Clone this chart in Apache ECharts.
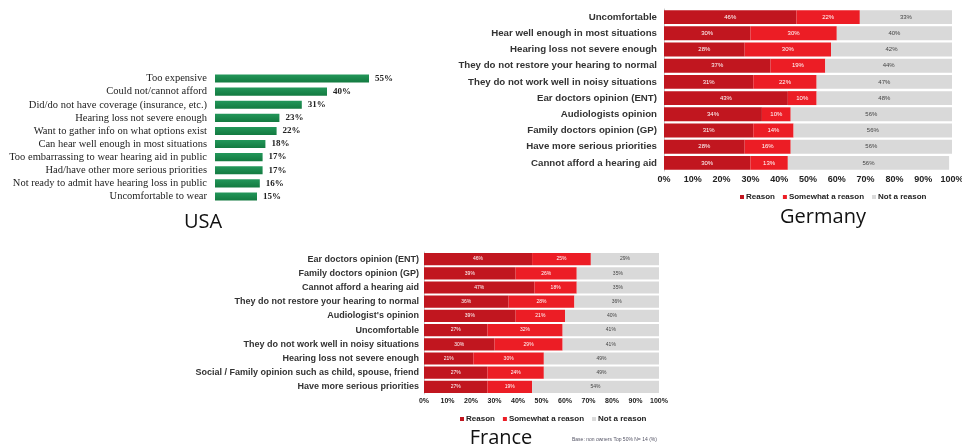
<!DOCTYPE html>
<html><head><meta charset="utf-8">
<script src="https://cdn.jsdelivr.net/npm/echarts@6/dist/echarts.min.js"></script>
<style>html,body{margin:0;padding:0;background:#fff}#c{width:962px;height:448px}</style>
</head><body><div id="c"></div>
<script>
// USA
const usaCategories = ["Too expensive","Could not/cannot afford","Did/do not have coverage (insurance, etc.)","Hearing loss not severe enough","Want to gather info on what options exist","Can hear well enough in most situations","Too embarrassing to wear hearing aid in public","Had/have other more serious priorities","Not ready to admit have hearing loss in public","Uncomfortable to wear"];
const usaValues = [55,40,31,23,22,18,17,17,16,15];
// Germany
const deCategories = ["Uncomfortable","Hear well enough in most situations","Hearing loss not severe enough","They do not restore your hearing to normal","They do not work well in noisy situations","Ear doctors opinion (ENT)","Audiologists opinion","Family doctors opinion (GP)","Have more serious priorities","Cannot afford a hearing aid"];
const deReason = [46,30,28,37,31,43,34,31,28,30];
const deSomewhat = [22,30,30,19,22,10,10,14,16,13];
const deNot = [33,40,42,44,47,48,56,56,56,56];
// France
const frCategories = ["Ear doctors opinion (ENT)","Family doctors opinion (GP)","Cannot afford a hearing aid","They do not restore your hearing to normal","Audiologist's opinion","Uncomfortable","They do not work well in noisy situations","Hearing loss not severe enough","Social / Family opinion such as child, spouse, friend","Have more serious priorities"];
const frReason = [46,39,47,36,39,27,30,21,27,27];
const frSomewhat = [25,26,18,28,21,32,29,30,24,19];
const frNot = [29,35,35,36,40,41,41,49,49,54];
const xTicks = [0,10,20,30,40,50,60,70,80,90,100];
const seriesNames = ["Reason","Somewhat a reason","Not a reason"];

const C_REASON = '#c1161f', C_SOME = '#ec1d25', C_NOT = '#d9d9d9';
const chart = echarts.init(document.getElementById('c'));

function stackSeries(idx, data, color, name, fs, txtColor){
  return {type:'bar', name:name, stack:'s'+idx, xAxisIndex:idx, yAxisIndex:idx, clip:true,
    barCategoryGap:'14%', itemStyle:{color:color},
    label:{show:true, position:'inside', formatter:'{c}%', fontSize:fs, color:txtColor, fontFamily:'Liberation Sans'},
    data:data};
}

const option = {
  animation:false,
  title:[
    {text:'USA', left:198, top:207, textAlign:'center', textStyle:{fontFamily:'Open Sans', fontSize:20, fontWeight:'normal', color:'#111'}},
    {text:'Germany', left:818, top:202, textAlign:'center', textStyle:{fontFamily:'Open Sans', fontSize:20, fontWeight:'normal', color:'#111'}},
    {text:'France', left:496, top:423, textAlign:'center', textStyle:{fontFamily:'Open Sans', fontSize:20, fontWeight:'normal', color:'#111'}},
    {text:'Base: non owners Top 50% N= 14 (%)', left:567, top:432, textStyle:{fontFamily:'Liberation Sans', fontSize:5, fontWeight:'normal', color:'#556'}}
  ],
  legend:[
    {data:seriesNames, left:735, top:188, icon:'rect', itemWidth:4, itemHeight:4, itemGap:8,
     textStyle:{fontFamily:'Liberation Sans', fontWeight:'bold', fontSize:8, color:'#222', padding:[0,0,0,-3]}, selectedMode:false},
    {data:seriesNames, left:455, top:410, icon:'rect', itemWidth:4, itemHeight:4, itemGap:8,
     textStyle:{fontFamily:'Liberation Sans', fontWeight:'bold', fontSize:8, color:'#222', padding:[0,0,0,-3]}, selectedMode:false}
  ],
  grid:[
    {left:215, top:72, width:280, height:131, outerBoundsMode:'none'},
    {left:664, top:9, width:288, height:162, outerBoundsMode:'none'},
    {left:424, top:252, width:235, height:142, outerBoundsMode:'none'}
  ],
  xAxis:[
    {gridIndex:0, type:'value', min:0, max:100, show:false},
    {gridIndex:1, type:'value', min:0, max:100, interval:10, splitLine:{show:false},
     axisLine:{show:false}, axisTick:{show:false},
     axisLabel:{formatter:'{value}%', fontFamily:'Liberation Sans', fontWeight:'bold', fontSize:9, color:'#222', margin:4}},
    {gridIndex:2, type:'value', min:0, max:100, interval:10, splitLine:{show:false},
     axisLine:{show:false}, axisTick:{show:false},
     axisLabel:{formatter:'{value}%', fontFamily:'Liberation Sans', fontWeight:'bold', fontSize:7, color:'#222', margin:4}}
  ],
  yAxis:[
    {gridIndex:0, type:'category', inverse:true, data:usaCategories,
     axisLine:{show:false}, axisTick:{show:false},
     axisLabel:{interval:0, fontFamily:'Liberation Serif', fontSize:10.5, color:'#222', margin:8}},
    {gridIndex:1, type:'category', inverse:true, data:deCategories,
     axisLine:{show:true, lineStyle:{color:'#ccc'}}, axisTick:{show:false},
     axisLabel:{interval:0, fontFamily:'Liberation Sans', fontWeight:'bold', fontSize:9.7, color:'#333', margin:7}},
    {gridIndex:2, type:'category', inverse:true, data:frCategories,
     axisLine:{show:true, lineStyle:{color:'#ccc'}}, axisTick:{show:false},
     axisLabel:{interval:0, fontFamily:'Liberation Sans', fontWeight:'bold', fontSize:9, color:'#333', margin:5}}
  ],
  series:[
    {type:'bar', name:'USA', xAxisIndex:0, yAxisIndex:0, barCategoryGap:'38%',
     itemStyle:{color:new echarts.graphic.LinearGradient(0,0,0,1,[{offset:0,color:'#23975a'},{offset:1,color:'#137a40'}])},
     label:{show:true, position:'right', formatter:'{c}%', distance:6, fontFamily:'Liberation Serif', fontWeight:'bold', fontSize:9, color:'#222'},
     data:usaValues},
    stackSeries(1, deReason, C_REASON, seriesNames[0], 6, '#fff'),
    stackSeries(1, deSomewhat, C_SOME, seriesNames[1], 6, '#fff'),
    stackSeries(1, deNot, C_NOT, seriesNames[2], 6, '#444'),
    stackSeries(2, frReason, C_REASON, seriesNames[0], 5, '#fff'),
    stackSeries(2, frSomewhat, C_SOME, seriesNames[1], 5, '#fff'),
    stackSeries(2, frNot, C_NOT, seriesNames[2], 5, '#444')
  ]
};
chart.setOption(option);
</script></body></html>
